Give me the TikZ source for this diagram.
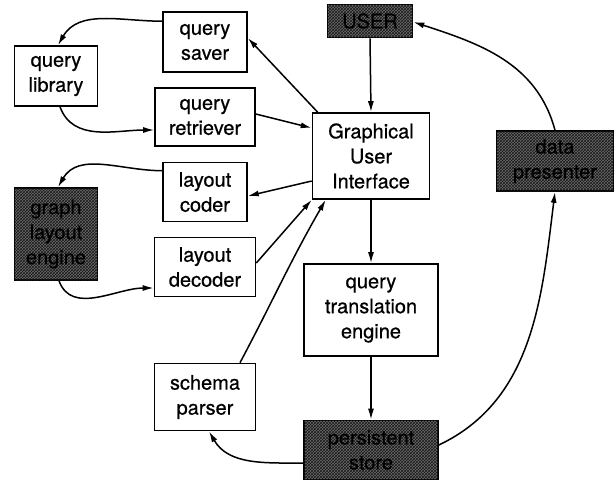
\documentclass[tikz,border=0pt]{standalone}
\usepackage{fontspec}
\newfontfamily\boxfont{TeX Gyre Heros}[FakeBold=0.6]
\usetikzlibrary{arrows.meta,patterns,calc}
\begin{document}
\begin{tikzpicture}[x=1pt,y=-1pt,
  box/.style={draw=black,line width=1.6pt,fill=white,align=center,inner sep=1pt,
    font=\boxfont\fontsize{20}{25}\selectfont},
  shade/.style={box,fill=black!58,postaction={pattern=crosshatch,pattern color=black!90},text=black},
  arr/.style={line width=1.5pt,-{Latex[length=11pt,width=6pt]}}]
\useasboundingbox (0,0) rectangle (615,483);
\node[shade,minimum width=85pt,minimum height=33pt] (user) at (370,21) {USER};
\node[box,minimum width=84pt,minimum height=60pt] (saver) at (205,42) {query\\saver};
\node[box,minimum width=83pt,minimum height=60pt] (library) at (56,76) {query\\library};
\node[box,minimum width=100pt,minimum height=58pt] (retriever) at (205,117) {query\\retriever};
\node[box,minimum width=84pt,minimum height=59pt] (coder) at (205,192) {layout\\coder};
\node[shade,minimum width=83pt,minimum height=92pt] (engine) at (56,234) {graph\\layout\\engine};
\node[box,minimum width=101pt,minimum height=59pt] (decoder) at (205,267) {layout\\decoder};
\node[box,minimum width=117pt,minimum height=86pt] (gui) at (371,156) {Graphical\\User\\Interface};
\node[shade,minimum width=117pt,minimum height=60pt] (presenter) at (555,161) {data\\presenter};
\node[box,minimum width=134pt,minimum height=92pt] (qte) at (371,310) {query\\translation\\engine};
\node[shade,minimum width=134pt,minimum height=59pt] (store) at (371,450) {persistent\\store};
\node[box,minimum width=101pt,minimum height=67pt] (schema) at (205,397) {schema\\parser};

\draw[arr] (user.south) -- (gui.north);
\draw[arr] ($(gui.north west)+(6,0)$) -- ($(saver.east)+(0,-4)$);
\draw[arr] ($(saver.north west)+(0,10)$) to[out=180,in=60] ($(library.north)+(2,0)$);
\draw[arr] ($(library.south)+(4,0)$) to[out=-70,in=180] ($(retriever.west)+(0,13)$);
\draw[arr] ($(retriever.east)+(0,-3)$) -- ($(gui.west)+(0,-28)$);
\draw[arr] ($(gui.west)+(0,25)$) -- ($(coder.east)+(0,4)$);
\draw[arr] ($(coder.north west)+(0,9)$) to[out=180,in=60] ($(engine.north)+(2,0)$);
\draw[arr] ($(engine.south)+(3,0)$) to[out=-70,in=180] ($(decoder.west)+(0,21)$);
\draw[arr] ($(decoder.east)+(0,-4)$) -- (gui.south west);
\draw[arr] ($(schema.north)+(35,0)$) to[out=62,in=-120] ($(gui.south west)+(14,0)$);
\draw[arr] (gui.south) -- (qte.north);
\draw[arr] (qte.south) -- (store.north);
\draw[arr] ($(store.west)+(0,13)$) to[out=180,in=-60] ($(schema.south)+(4,0)$);
\draw[arr] ($(store.east)+(0,-5)$) .. controls (534,400) and (542,296) .. (presenter.south);
\draw[arr] (presenter.north) to[out=105,in=-18] ($(user.east)+(0,1)$);
\end{tikzpicture}
\end{document}
